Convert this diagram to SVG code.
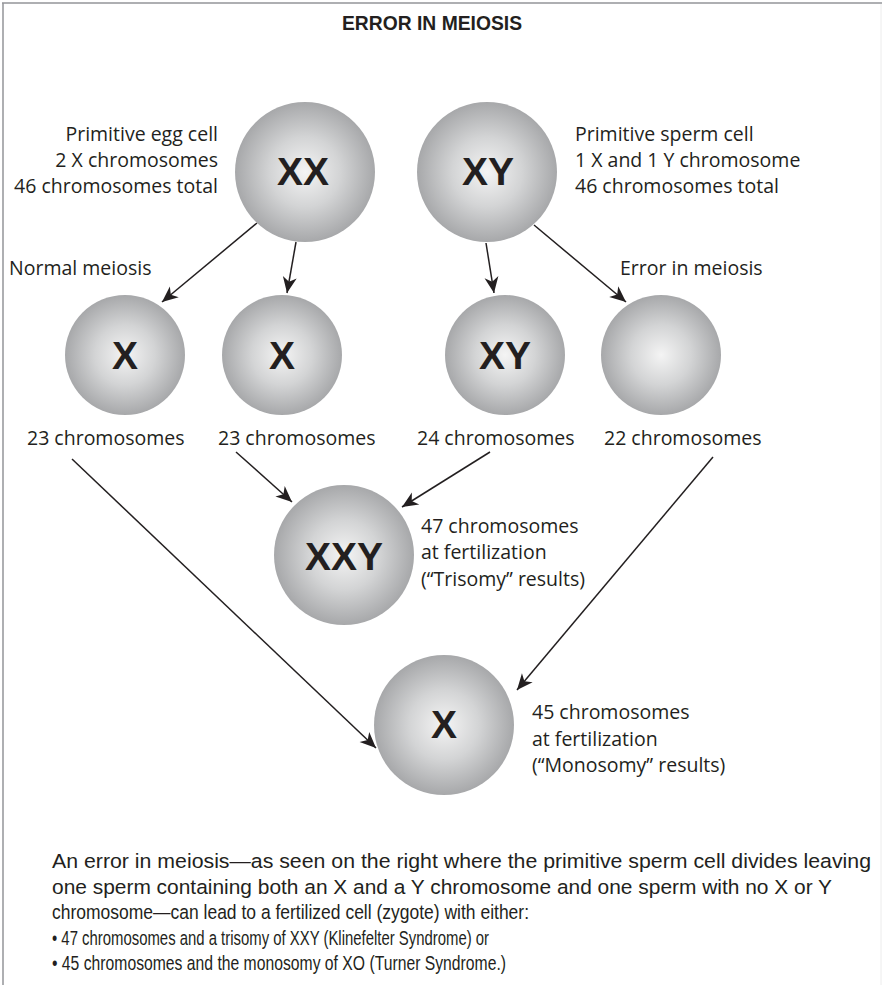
<svg xmlns="http://www.w3.org/2000/svg" width="882" height="985" viewBox="0 0 882 985">
<style>
.lbl{font-family:"Open Sans","Liberation Sans",sans-serif;font-size:19.5px;fill:#231f20}
.big{font-family:"Liberation Sans",Arial,sans-serif;font-weight:bold;font-size:39px;fill:#231f20;text-anchor:middle}
.para{font-family:"Liberation Sans",Arial,sans-serif;font-size:20.5px;fill:#231f20}
.cell{fill:url(#g)}
.con{stroke:#231f20;stroke-width:1.5;fill:none;marker-end:url(#ah)}
</style>
<defs>
<radialGradient id="g" cx="50%" cy="50%" r="50%">
<stop offset="0" stop-color="#f4f4f4"/>
<stop offset="0.5" stop-color="#d3d4d5"/>
<stop offset="1" stop-color="#a7a8aa"/>
</radialGradient>
<marker id="ah" viewBox="-17 -8 18 16" refX="0" refY="0" markerWidth="18" markerHeight="16" orient="auto" markerUnits="userSpaceOnUse">
<path d="M0,0 L-16,-7 L-11.5,0 L-16,7 Z" fill="#231f20"/>
</marker>
</defs>
<rect width="882" height="985" fill="#ffffff"/>
<g id="frame">
<line x1="2" y1="3" x2="882" y2="3" stroke="#939598" stroke-width="1.5"/>
<line x1="3" y1="3" x2="3" y2="985" stroke="#939598" stroke-width="1.5"/>
<line x1="881" y1="4" x2="881" y2="985" stroke="#ececec" stroke-width="1"/>
</g>
<text id="title" x="432" y="30" text-anchor="middle" font-family="Liberation Sans, Arial, sans-serif" font-weight="bold" font-size="21" fill="#231f20" textLength="180" lengthAdjust="spacingAndGlyphs">ERROR IN MEIOSIS</text>

<g id="connectors">
<line class="con" x1="257" y1="223" x2="162" y2="302"/>
<line class="con" x1="296" y1="242" x2="287" y2="293"/>
<line class="con" x1="486" y1="243" x2="494" y2="293"/>
<line class="con" x1="534" y1="225" x2="626" y2="302"/>
<line class="con" x1="236" y1="452" x2="292" y2="502"/>
<line class="con" x1="490" y1="452" x2="402" y2="507"/>
<line class="con" x1="72" y1="459" x2="376" y2="748"/>
<line class="con" x1="713" y1="457" x2="517" y2="690"/>
</g>

<g id="egg-cell"><circle class="cell" cx="305" cy="172" r="70"/><text class="big" x="303" y="185">XX</text></g>
<g id="sperm-cell"><circle class="cell" cx="487" cy="172" r="70"/><text class="big" x="488" y="185">XY</text></g>
<g id="egg-x1"><circle class="cell" cx="125" cy="355" r="60"/><text class="big" x="125" y="369">X</text></g>
<g id="egg-x2"><circle class="cell" cx="282" cy="355" r="60"/><text class="big" x="282" y="369">X</text></g>
<g id="sperm-xy"><circle class="cell" cx="505" cy="355" r="60"/><text class="big" x="505" y="369">XY</text></g>
<g id="sperm-empty"><circle class="cell" cx="661" cy="355" r="60"/></g>
<g id="zygote-xxy"><circle class="cell" cx="344" cy="555" r="70"/><text class="big" x="344" y="570">XXY</text></g>
<g id="zygote-x"><circle class="cell" cx="444" cy="725" r="70"/><text class="big" x="444" y="738">X</text></g>

<g id="labels">
<text class="lbl" x="218" y="141" text-anchor="end">Primitive egg cell</text>
<text class="lbl" x="218" y="167" text-anchor="end">2 X chromosomes</text>
<text class="lbl" x="218" y="193" text-anchor="end">46 chromosomes total</text>
<text class="lbl" x="575" y="141">Primitive sperm cell</text>
<text class="lbl" x="575" y="167">1 X and 1 Y chromosome</text>
<text class="lbl" x="575" y="193">46 chromosomes total</text>
<text class="lbl" x="9" y="275">Normal meiosis</text>
<text class="lbl" x="620" y="275">Error in meiosis</text>
<text class="lbl" x="27" y="445">23 chromosomes</text>
<text class="lbl" x="218" y="445">23 chromosomes</text>
<text class="lbl" x="417" y="445">24 chromosomes</text>
<text class="lbl" x="604" y="445">22 chromosomes</text>
<text class="lbl" x="421" y="533">47 chromosomes</text>
<text class="lbl" x="421" y="559">at fertilization</text>
<text class="lbl" x="421" y="586">(“Trisomy” results)</text>
<text class="lbl" x="532" y="719">45 chromosomes</text>
<text class="lbl" x="532" y="746">at fertilization</text>
<text class="lbl" x="532" y="772">(“Monosomy” results)</text>
</g>

<g id="caption">
<text class="para" x="52" y="868" textLength="819" lengthAdjust="spacingAndGlyphs">An error in meiosis—as seen on the right where the primitive sperm cell divides leaving</text>
<text class="para" x="52" y="894" textLength="780" lengthAdjust="spacingAndGlyphs">one sperm containing both an X and a Y chromosome and one sperm with no X or Y</text>
<text class="para" x="52" y="919" textLength="477" lengthAdjust="spacingAndGlyphs">chromosome—can lead to a fertilized cell (zygote) with either:</text>
<text class="para" x="52" y="945" textLength="437" lengthAdjust="spacingAndGlyphs">• 47 chromosomes and a trisomy of XXY (Klinefelter Syndrome) or</text>
<text class="para" x="52" y="970" textLength="454" lengthAdjust="spacingAndGlyphs">• 45 chromosomes and the monosomy of XO (Turner Syndrome.)</text>
</g>
</svg>
